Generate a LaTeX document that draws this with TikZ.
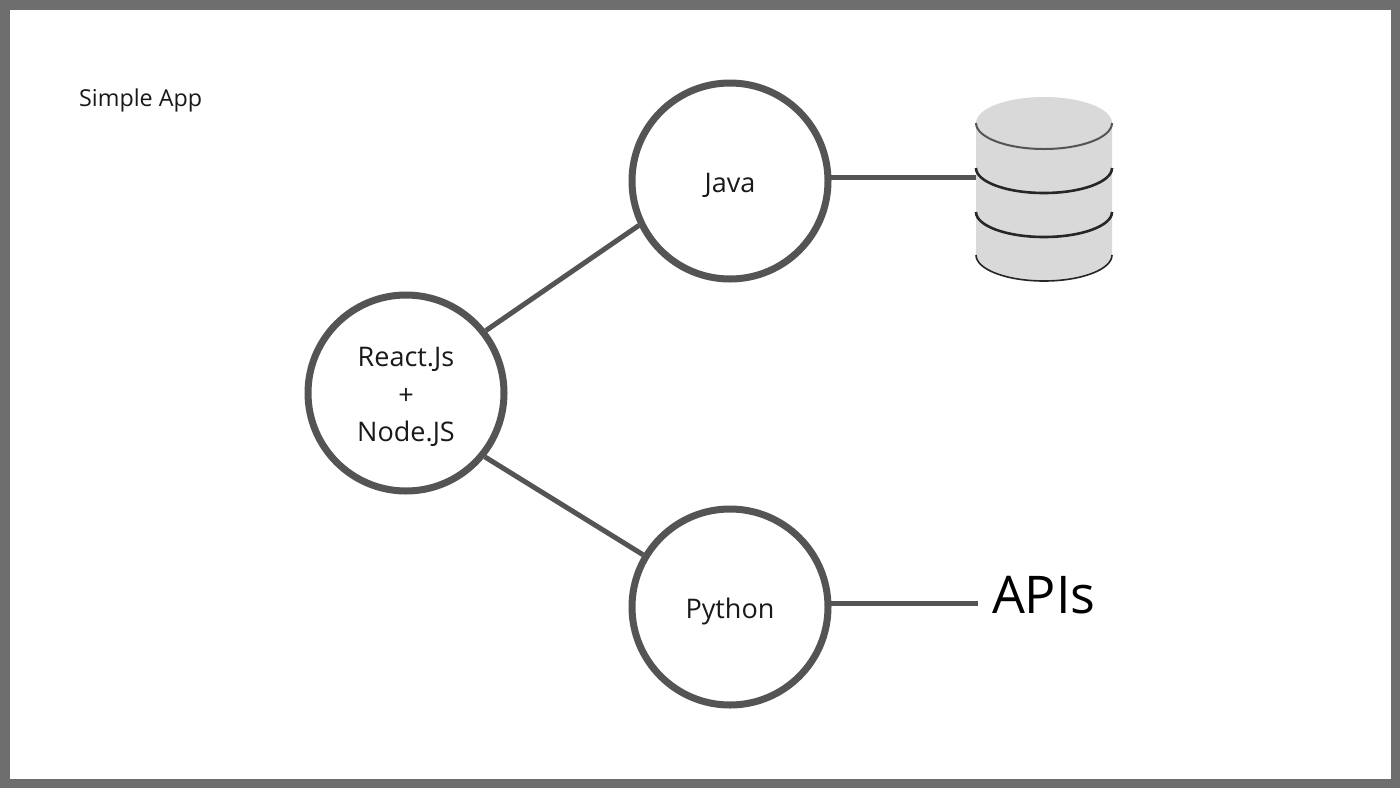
\documentclass[tikz,border=0pt]{standalone}
\usepackage{fontspec}
\setmainfont{Open Sans}
\definecolor{framegray}{HTML}{6E6E6E}
\definecolor{ringgray}{HTML}{545454}
\definecolor{dbgray}{HTML}{D9D9D9}
\newcommand\tierlabel[1]{\raisebox{-3.5pt}[\height][\depth]{\begin{tabular}{@{}c@{}}#1\end{tabular}}}
\tikzset{
  tier/.style={circle,draw=ringgray,line width=7pt,fill=white,minimum size=196pt,inner sep=0pt,text=black!90,font=\fontsize{27}{37.5}\selectfont},
  link/.style={draw=ringgray,line width=5pt},
  band/.style={line width=2.6pt,draw=black!85},
}
\begin{document}
\begin{tikzpicture}[x=1pt,y=-1pt]
\useasboundingbox (0,0) rectangle (1400,788);
\fill[framegray] (0,0) rectangle (1400,788);
\fill[white] (10,10) rectangle (1391,779);
\node[anchor=west,inner sep=0pt,font=\fontsize{23.3}{28}\selectfont,text=black!90] (title) at (79,100) {Simple App};
\node[tier] (java) at (730,181) {\tierlabel{Java}};
\node[tier] (react) at (406,393) {\tierlabel{React.Js\\+\\Node.JS}};
\node[tier] (python) at (730,607) {\tierlabel{Python}};
\node[anchor=west,inner sep=0pt,outer sep=0pt,text=black,font=\fontsize{52}{60}\selectfont] (apitext) at (992,595) {APIs};
\coordinate (apis) at (978,595);
\node[inner sep=0pt,minimum width=136pt,minimum height=184pt] (db) at (1044,189) {};
% database
\fill[dbgray] (976,123) -- (976,255) arc[start angle=180,end angle=0,x radius=68,y radius=26] -- (1112,123) arc[start angle=0,end angle=-180,x radius=68,y radius=26] -- cycle;
\draw[line width=2pt,draw=ringgray] (976,123) arc[start angle=180,end angle=0,x radius=68,y radius=26];
\draw[band] (976,168) arc[start angle=180,end angle=0,x radius=68,y radius=25];
\draw[band] (976,212) arc[start angle=180,end angle=0,x radius=68,y radius=25];
\draw[line width=1.6pt,draw=black!85] (976,255) arc[start angle=180,end angle=0,x radius=68,y radius=26];
% connectors
\draw[link] (react.38) -- (java.206);
\draw[link] (react.-39) -- (python.149);
\draw[link] (java.2) -- (java.2 -| db.west);
\draw[link] (python.2) -- (python.2 -| apis);
\end{tikzpicture}
\end{document}
